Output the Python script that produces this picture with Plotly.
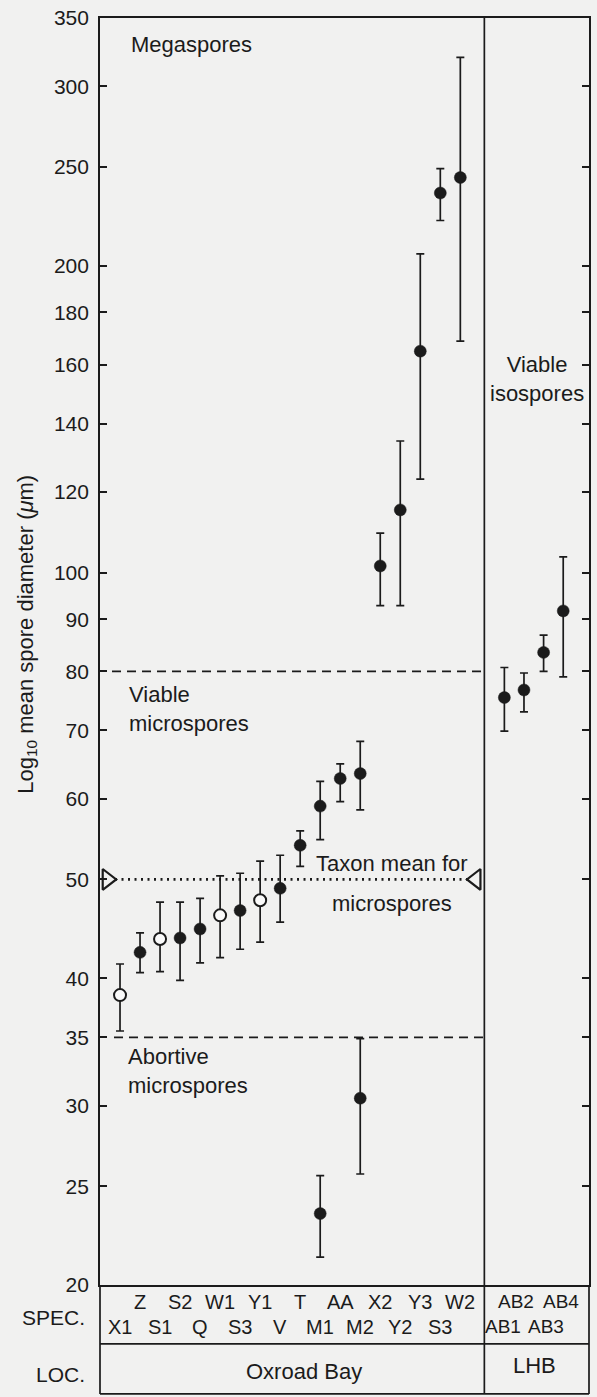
import math
import plotly.graph_objects as go

# ---------------- data ----------------
oxroad_specs = ["X1", "Z", "S1", "S2", "Q", "W1", "S3", "Y1", "V", "T",
                "M1", "AA", "M2", "X2", "Y2", "Y3", "S3", "W2"]
lhb_specs = ["AB1", "AB2", "AB3", "AB4"]

N = None
# viable microspores (Oxroad Bay)
micro_mean = [38.5, 42.4, 43.7, 43.8, 44.7, 46.1, 46.6, 47.7, 49.0, 54.0, 59.0, 62.8, 63.5, N, N, N, N, N]
micro_lo   = [35.5, 40.5, 40.6, 39.8, 41.4, 41.9, 42.7, 43.4, 45.4, 51.5, 54.7, 59.6, 58.5, N, N, N, N, N]
micro_hi   = [41.3, 44.3, 47.5, 47.5, 47.9, 50.4, 50.7, 52.1, 52.8, 55.8, 62.4, 64.9, 68.3, N, N, N, N, N]
micro_open = [True, False, True, False, False, True, False, True, False, False, False, False, False,
              False, False, False, False, False]
# abortive microspores
abort_mean = [N] * 10 + [23.5, N, 30.5] + [N] * 5
abort_lo   = [N] * 10 + [21.3, N, 25.7] + [N] * 5
abort_hi   = [N] * 10 + [25.6, N, 34.9] + [N] * 5
# megaspores
mega_mean = [N] * 13 + [101.5, 115.2, 164.9, 235.7, 244.1]
mega_lo   = [N] * 13 + [92.8, 92.8, 123.5, 221.5, 168.7]
mega_hi   = [N] * 13 + [109.3, 134.6, 205.4, 249.1, 320.2]
# viable isospores (LHB)
iso_mean = [75.4, 76.7, 83.5, 91.7]
iso_lo   = [69.9, 73.0, 80.0, 79.0]
iso_hi   = [80.7, 79.7, 86.8, 103.6]

taxon_mean = 50
viable_limit = 80
abortive_limit = 35

y_ticks = [20, 25, 30, 35, 40, 50, 60, 70, 80, 90, 100, 120, 140, 160, 180, 200, 250, 300, 350]

# ---------------- layout geometry ----------------
W, H = 597, 1397
ML, MR, MT, MB = 100, 6, 17, 112
PW = W - ML - MR
PH = H - MT - MB
UNIT = 20.1                      # px per specimen slot
XMAX = PW / UNIT
DIV = 19.2                       # divider between localities

ox_x = [i + 1 for i in range(len(oxroad_specs))]
lhb_x = [DIV + 1.0 + 0.98 * j for j in range(len(lhb_specs))]
# label positions in the LHB cell are spread a little wider than the points
lhb_label_x = [DIV + 0.95, DIV + 1.6, DIV + 3.1, DIV + 3.85]


def py(px):
    """page pixel row -> paper y"""
    return (MT + PH - px) / PH


INK = "#1b1b1b"
BG = "#f1f1f0"
FONT = "Liberation Sans, Arial, Helvetica, sans-serif"
FS = 22

fig = go.Figure()


def add_points(xs, mean, lo, hi, opens=None):
    groups = {False: ([], [], [], []), True: ([], [], [], [])}
    for k, (x, m, l, h) in enumerate(zip(xs, mean, lo, hi)):
        if m is None:
            continue
        o = bool(opens[k]) if opens else False
        g = groups[o]
        g[0].append(x); g[1].append(m); g[2].append(h - m); g[3].append(m - l)
    for o, (gx, gy, up, dn) in groups.items():
        if not gx:
            continue
        fig.add_trace(go.Scatter(
            x=gx, y=gy, mode="markers",
            marker=dict(size=12, color=("#fafafa" if o else INK),
                        line=dict(color=INK, width=2 if o else 0.5)),
            error_y=dict(type="data", symmetric=False, array=up, arrayminus=dn,
                         color=INK, thickness=1.7, width=4),
            showlegend=False, hoverinfo="skip"))


# threshold lines
fig.add_trace(go.Scatter(x=[0.6, DIV], y=[viable_limit] * 2, mode="lines",
                         line=dict(color=INK, width=1.7, dash="9px,6px"),
                         showlegend=False, hoverinfo="skip"))
fig.add_trace(go.Scatter(x=[0.7, DIV], y=[abortive_limit] * 2, mode="lines",
                         line=dict(color=INK, width=1.7, dash="9px,6px"),
                         showlegend=False, hoverinfo="skip"))
fig.add_trace(go.Scatter(x=[0.75, 18.4], y=[taxon_mean] * 2, mode="lines",
                         line=dict(color=INK, width=2.6, dash="2px,4.5px"),
                         showlegend=False, hoverinfo="skip"))
fig.add_trace(go.Scatter(x=[0.36], y=[taxon_mean], mode="markers",
                         marker=dict(symbol="triangle-right", size=18, color=BG,
                                     line=dict(color=INK, width=2.2)),
                         showlegend=False, hoverinfo="skip"))
fig.add_trace(go.Scatter(x=[DIV - 0.42], y=[taxon_mean], mode="markers",
                         marker=dict(symbol="triangle-left", size=18, color=BG,
                                     line=dict(color=INK, width=2.2)),
                         showlegend=False, hoverinfo="skip"))

add_points(ox_x, micro_mean, micro_lo, micro_hi, micro_open)
add_points(ox_x, abort_mean, abort_lo, abort_hi)
add_points(ox_x, mega_mean, mega_lo, mega_hi)
add_points(lhb_x, iso_mean, iso_lo, iso_hi)

# ---------------- annotations ----------------
ann = []


def txt(text, x, y, xref="x", yref="y", xanchor="left", yanchor="middle", size=FS,
        angle=0, align="left"):
    ann.append(dict(text=text, x=x, y=y, xref=xref, yref=yref, xanchor=xanchor,
                    yanchor=yanchor, showarrow=False, textangle=angle, align=align,
                    font=dict(family=FONT, size=size, color=INK)))


L = math.log10
txt("Megaspores", 1.45, L(330))
txt("Viable<br>microspores", 1.35, L(73.4))
txt("Abortive<br>microspores", 1.3, L(32.4))
txt("Viable<br>isospores", 21.85, L(155), xanchor="center", align="center")
txt("Taxon mean for", 14.6, L(51.8), xanchor="center")
txt("microspores", 14.6, L(47.4), xanchor="center")

# y axis title
txt("Log<sub>10</sub> mean spore diameter (<i>\u03bc</i>m)", -74 / PW, py(634),
    xref="paper", yref="paper", xanchor="center", angle=-90, size=22)

# table
txt("SPEC.", -13 / PW, py(1318), xref="paper", yref="paper", xanchor="right", size=21)
txt("LOC.", -13 / PW, py(1375), xref="paper", yref="paper", xanchor="right", size=21)
for k, (x, s) in enumerate(zip(ox_x, oxroad_specs)):
    txt(s, x, py(1327) if k % 2 == 0 else py(1302), yref="paper", xanchor="center", size=20)
for k, (x, s) in enumerate(zip(lhb_label_x, lhb_specs)):
    txt(s, x, py(1327) if k % 2 == 0 else py(1302), yref="paper", xanchor="center", size=19)
txt("Oxroad Bay", 10.2, py(1372), yref="paper", xanchor="center")
txt("LHB", 21.7, py(1366), yref="paper", xanchor="center")

row1 = py(1344)
row2 = py(1394)
shapes = [
    dict(type="line", xref="x", yref="paper", x0=DIV, x1=DIV, y0=row2, y1=1,
         line=dict(color=INK, width=1.7)),
    dict(type="line", xref="paper", yref="paper", x0=0, x1=0, y0=row2, y1=0,
         line=dict(color=INK, width=1.7)),
    dict(type="line", xref="paper", yref="paper", x0=1, x1=1, y0=row2, y1=0,
         line=dict(color=INK, width=1.7)),
    dict(type="line", xref="paper", yref="paper", x0=0, x1=1, y0=row1, y1=row1,
         line=dict(color=INK, width=1.7)),
    dict(type="line", xref="paper", yref="paper", x0=0, x1=1, y0=row2, y1=row2,
         line=dict(color=INK, width=1.7)),
]

fig.update_layout(
    width=W, height=H,
    margin=dict(l=ML, r=MR, t=MT, b=MB, pad=0),
    paper_bgcolor=BG, plot_bgcolor=BG,
    annotations=ann, shapes=shapes,
    showlegend=False,
    xaxis=dict(range=[0, XMAX], showgrid=False, zeroline=False, showticklabels=False,
               ticks="", showline=True, linecolor=INK, linewidth=1.7, mirror=True,
               fixedrange=True),
    yaxis=dict(type="log", range=[L(20), L(350)], tickvals=y_ticks,
               ticktext=[str(v) for v in y_ticks], showgrid=False, zeroline=False,
               ticks="inside", ticklen=7, tickwidth=1.5, tickcolor=INK,
               showline=True, linecolor=INK, linewidth=1.7, mirror="ticks",
               tickfont=dict(family=FONT, size=21, color=INK),
               ticklabelstandoff=5, fixedrange=True),
)

fig.write_html("out.html")
